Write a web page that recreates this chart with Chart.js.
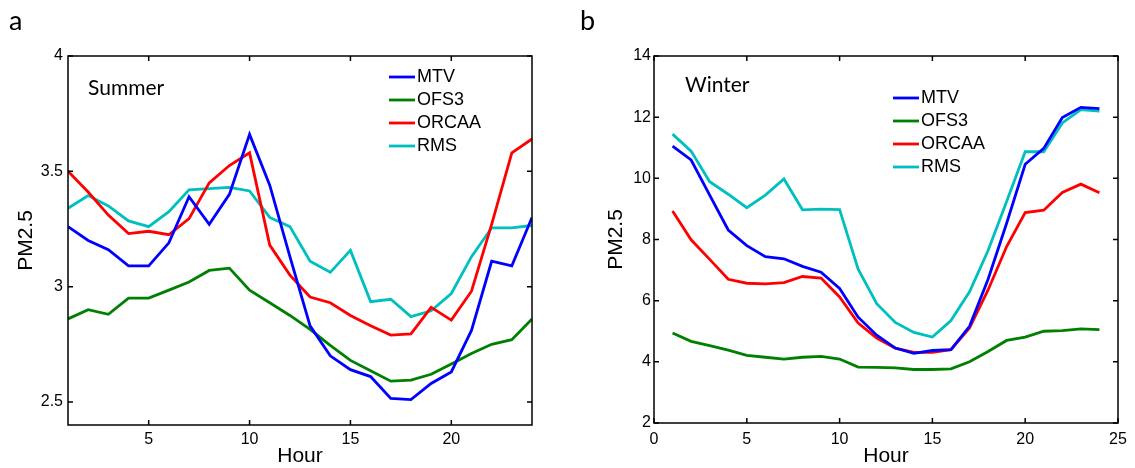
<!DOCTYPE html>
<html>
<head>
<meta charset="utf-8">
<script src="https://cdn.jsdelivr.net/npm/chart.js@4.4.1/dist/chart.umd.min.js"></script>
<style>
body{margin:0;background:#fff;width:1135px;height:468px;position:relative;overflow:hidden}
.box{position:absolute;top:0;height:468px}
#boxA{left:0;width:560px}
#boxB{left:570px;width:565px}
</style>
</head>
<body>
<div class="box" id="boxA"><canvas id="chartA"></canvas></div>
<div class="box" id="boxB"><canvas id="chartB"></canvas></div>
<script>
//******************************************************** données ********************************************************
const hours = [1,2,3,4,5,6,7,8,9,10,11,12,13,14,15,16,17,18,19,20,21,22,23,24]
const seriesNames = ['MTV', 'OFS3', 'ORCAA', 'RMS']
const seriesColors = ['#0000ff', '#008000', '#ff0000', '#00bfbf']

// été
const summerMTV   = [3.26,3.20,3.16,3.09,3.09,3.19,3.39,3.27,3.40,3.66,3.44,3.13,2.83,2.70,2.64,2.61,2.515,2.51,2.58,2.63,2.81,3.11,3.09,3.30]
const summerOFS3  = [2.86,2.90,2.88,2.95,2.95,2.985,3.02,3.07,3.08,2.985,2.93,2.875,2.815,2.745,2.68,2.635,2.59,2.595,2.62,2.665,2.71,2.75,2.77,2.86]
const summerORCAA = [3.50,3.41,3.31,3.23,3.24,3.225,3.295,3.45,3.525,3.58,3.18,3.05,2.955,2.93,2.875,2.83,2.79,2.795,2.91,2.855,2.98,3.27,3.58,3.64]
const summerRMS   = [3.34,3.395,3.35,3.285,3.26,3.325,3.42,3.425,3.43,3.415,3.30,3.26,3.11,3.062,3.157,2.935,2.945,2.87,2.895,2.97,3.13,3.255,3.255,3.265]

// hiver
const winterMTV   = [11.05,10.60,9.45,8.31,7.80,7.44,7.37,7.12,6.93,6.40,5.46,4.87,4.45,4.28,4.37,4.40,5.16,6.70,8.53,10.46,10.98,11.99,12.32,12.28]
const winterOFS3  = [4.94,4.67,4.53,4.38,4.21,4.15,4.09,4.15,4.18,4.09,3.83,3.82,3.80,3.75,3.75,3.77,4.00,4.34,4.70,4.81,5.00,5.02,5.08,5.05]
const winterORCAA = [8.93,7.99,7.35,6.70,6.57,6.55,6.59,6.79,6.74,6.12,5.27,4.78,4.45,4.31,4.31,4.40,5.11,6.35,7.77,8.88,8.96,9.54,9.81,9.53]
const winterRMS   = [11.445,10.89,9.89,9.48,9.04,9.45,9.98,8.97,8.99,8.98,7.03,5.90,5.29,4.96,4.81,5.35,6.29,7.64,9.24,10.87,10.87,11.81,12.25,12.20]

// graduations
const summerXTicks = [5, 10, 15, 20]
const summerYTicks = [2.5, 3, 3.5, 4]
const winterXTicks = [0, 5, 10, 15, 20, 25]
const winterYTicks = [2, 4, 6, 8, 10, 12, 14]

Chart.defaults.font.family = "'Liberation Sans', Arial, sans-serif"
Chart.defaults.color = '#000'
Chart.defaults.animation = false

//******************************************************** plugin cadre + légende ********************************************************
// cadre façon matlab : boîte noire, graduations vers l'intérieur sur les 4 côtés
const framePlugin = {
  id: 'frame',
  afterDatasetsDraw(chart, args, opts) {
    const {ctx, chartArea: a} = chart
    const x = chart.scales.x
    const y = chart.scales.y
    ctx.save()
    ctx.strokeStyle = '#000'
    ctx.lineWidth = 1.5
    ctx.strokeRect(a.left, a.top, a.right - a.left, a.bottom - a.top)
    ctx.beginPath()
    x.ticks.forEach(t => {
      const px = x.getPixelForValue(t.value)
      ctx.moveTo(px, a.bottom); ctx.lineTo(px, a.bottom - 5)
      ctx.moveTo(px, a.top); ctx.lineTo(px, a.top + 5)
    })
    y.ticks.forEach(t => {
      const py = y.getPixelForValue(t.value)
      ctx.moveTo(a.left, py); ctx.lineTo(a.left + 5, py)
      ctx.moveTo(a.right, py); ctx.lineTo(a.right - 5, py)
    })
    ctx.stroke()

    // légende
    ctx.font = "18px 'Liberation Sans', Arial, sans-serif"
    ctx.textBaseline = 'middle'
    ctx.textAlign = 'left'
    chart.data.datasets.forEach((ds, i) => {
      const ly = opts.legendY + i * 23
      ctx.strokeStyle = ds.borderColor
      ctx.lineWidth = 2.8
      ctx.beginPath()
      ctx.moveTo(opts.legendX, ly)
      ctx.lineTo(opts.legendX + 26, ly)
      ctx.stroke()
      ctx.fillStyle = '#000'
      ctx.fillText(ds.label, opts.legendX + 28, ly)
    })

    // textes (lettre du panneau, saison)
    ctx.textBaseline = 'alphabetic'
    ctx.fillStyle = '#000'
    ctx.font = "27px Lato, sans-serif"
    ctx.fillText(opts.panel, opts.panelX, 30)
    ctx.font = "21px Lato, sans-serif"
    ctx.fillText(opts.season, opts.seasonX, opts.seasonY)
    ctx.restore()
  }
}

function makeDatasets(values) {
  return values.map((vals, i) => ({
    label: seriesNames[i],
    data: hours.map((h, k) => ({x: h, y: vals[k]})),
    borderColor: seriesColors[i],
    backgroundColor: seriesColors[i],
    borderWidth: 2.8,
    pointRadius: 0,
    tension: 0
  }))
}

function makeConfig(values, o) {
  return {
    type: 'line',
    data: {datasets: makeDatasets(values)},
    options: {
      responsive: true,
      maintainAspectRatio: false,
      layout: {padding: {left: 0, top: 56, right: o.padRight, bottom: 0}},
      plugins: {
        legend: {display: false},
        tooltip: {enabled: false},
        frame: o.frame
      },
      scales: {
        x: {
          type: 'linear',
          min: o.xMin, max: o.xMax,
          grid: {display: false, drawTicks: false},
          border: {display: false},
          afterBuildTicks: s => { s.ticks = o.xTicks.map(v => ({value: v})) },
          afterFit: s => { s.height = o.xHeight },
          ticks: {font: {size: 16}, padding: o.xPad, maxRotation: 0, callback: v => String(v)},
          title: {display: true, text: 'Hour', font: {size: 21, lineHeight: 1}, padding: {top: 0, bottom: 1}}
        },
        y: {
          type: 'linear',
          min: o.yMin, max: o.yMax,
          grid: {display: false, drawTicks: false},
          border: {display: false},
          afterBuildTicks: s => { s.ticks = o.yTicks.map(v => ({value: v})) },
          afterFit: s => { s.width = o.yWidth },
          ticks: {font: {size: 16}, padding: o.yPad, callback: v => String(v)},
          title: {display: true, text: 'PM2.5', font: {size: 21, lineHeight: 1}, padding: {top: o.yTitlePad, bottom: 0}}
        }
      }
    },
    plugins: [framePlugin]
  }
}

document.addEventListener('DOMContentLoaded', function () {
  new Chart(document.getElementById('chartA'), makeConfig(
    [summerMTV, summerOFS3, summerORCAA, summerRMS],
    {xMin: 1, xMax: 24, yMin: 2.4, yMax: 4, xTicks: summerXTicks, yTicks: summerYTicks,
     padRight: 28, xHeight: 43, yWidth: 68, xPad: 5, yPad: 5, yTitlePad: 16,
     frame: {legendX: 389, legendY: 77, panel: 'a', panelX: 9, season: 'Summer', seasonX: 88, seasonY: 95}}
  ))

  new Chart(document.getElementById('chartB'), makeConfig(
    [winterMTV, winterOFS3, winterORCAA, winterRMS],
    {xMin: 0, xMax: 25, yMin: 2, yMax: 14, xTicks: winterXTicks, yTicks: winterYTicks,
     padRight: 17, xHeight: 45, yWidth: 84, xPad: 7, yPad: 3, yTitlePad: 36,
     frame: {legendX: 323, legendY: 98, panel: 'b', panelX: 10, season: 'Winter', seasonX: 115, seasonY: 92}}
  ))
})
</script>
</body>
</html>
